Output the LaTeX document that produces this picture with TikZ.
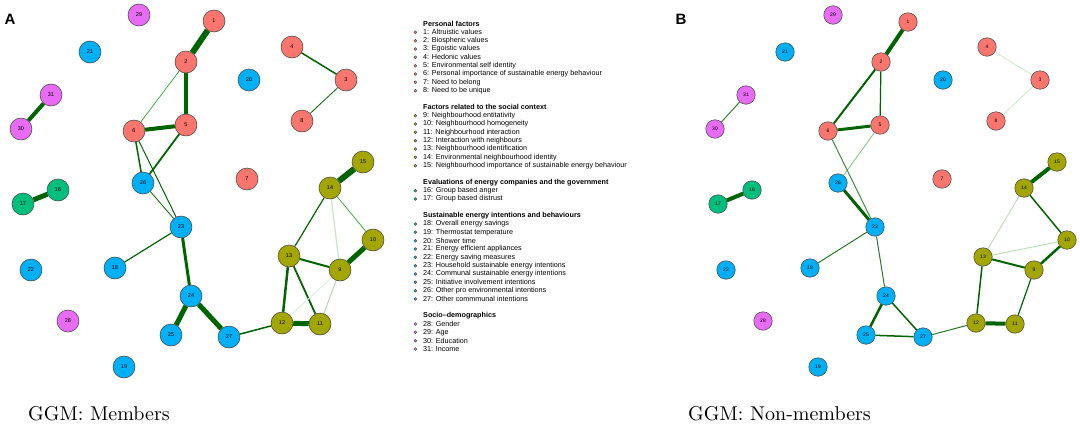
\documentclass[tikz,border=0pt]{standalone}
\usepackage{fontspec}
\newfontfamily\arial{Liberation Sans}
\newfontfamily\capfont{lmroman10-regular.otf}
\usetikzlibrary{backgrounds}

\definecolor{personal}{HTML}{F8766D}
\definecolor{social}{HTML}{A3A500}
\definecolor{evaluation}{HTML}{00BF7D}
\definecolor{intention}{HTML}{00B0F6}
\definecolor{demographic}{HTML}{E76BF3}
\definecolor{strong}{RGB}{0,100,0}
\definecolor{weak}{HTML}{009900}

\tikzset{
    pf/.style={fill=personal},
    sc/.style={fill=social},
    ev/.style={fill=evaluation},
    si/.style={fill=intention},
    sd/.style={fill=demographic},
    varA/.style={circle,draw=black!75,line width=0.5pt,minimum size=22pt,
        inner sep=0pt,font=\arial\fontsize{5.5}{6}\selectfont},
    varB/.style={varA,minimum size=18.5pt,font=\arial\fontsize{5}{6}\selectfont},
    tie/.style={draw=strong,line width=#1},
    faint/.style={draw=weak!#1,line width=0.9pt},
    keydot/.style={circle,draw=black!75,line width=0.3pt,minimum size=3pt,
        inner sep=0pt,xshift=-6pt},
    keytext/.style={anchor=west,inner sep=0pt,
        font=\arial\fontsize{7.2}{8}\selectfont},
    keyhead/.style={keytext,font=\arial\bfseries\fontsize{7.2}{8}\selectfont},
    caption/.style={anchor=west,inner sep=0pt,font=\capfont\fontsize{20}{24}\selectfont}
}

\begin{document}
\begin{tikzpicture}[x=1pt,y=-1pt]
        \useasboundingbox (0,0) rectangle (1080,426);

        % Panel letters
        \node [font=\arial\bfseries\fontsize{15}{16}\selectfont] (letA) at (10,19) {A};
        \node [font=\arial\bfseries\fontsize{15}{16}\selectfont] (letB) at (681,19) {B};

        % Members: variables
        \node [varA,pf] (a1) at (214,21) {1};
        \node [varA,pf] (a2) at (186,62) {2};
        \node [varA,pf] (a3) at (346,80) {3};
        \node [varA,pf] (a4) at (292,47) {4};
        \node [varA,pf] (a5) at (186,125) {5};
        \node [varA,pf] (a6) at (134,131) {6};
        \node [varA,pf] (a7) at (247,179) {7};
        \node [varA,pf] (a8) at (302,121) {8};
        \node [varA,sc] (a9) at (340,270) {9};
        \node [varA,sc] (a10) at (373,240) {10};
        \node [varA,sc] (a11) at (320,324) {11};
        \node [varA,sc] (a12) at (282,323) {12};
        \node [varA,sc] (a13) at (289,256) {13};
        \node [varA,sc] (a14) at (330,188) {14};
        \node [varA,sc] (a15) at (363,162) {15};
        \node [varA,ev] (a16) at (58,190) {16};
        \node [varA,ev] (a17) at (23,204) {17};
        \node [varA,si] (a18) at (115,268) {18};
        \node [varA,si] (a19) at (124,367) {19};
        \node [varA,si] (a20) at (249,80) {20};
        \node [varA,si] (a21) at (90,52) {21};
        \node [varA,si] (a22) at (31,270) {22};
        \node [varA,si] (a23) at (181,227) {23};
        \node [varA,si] (a24) at (191,296) {24};
        \node [varA,si] (a25) at (171,335) {25};
        \node [varA,si] (a26) at (143,183) {26};
        \node [varA,si] (a27) at (229,337) {27};
        \node [varA,sd] (a28) at (68,321) {28};
        \node [varA,sd] (a29) at (139,15) {29};
        \node [varA,sd] (a30) at (21,129) {30};
        \node [varA,sd] (a31) at (51,95) {31};

        % Members: edges
        \begin{scope}[on background layer]
            \draw [tie=6pt] (a1) -- (a2);
            \draw [tie=4pt] (a2) -- (a5);
            \draw [faint=85,line width=0.7pt] (a2) -- (a6);
            \draw [tie=4pt] (a6) -- (a5);
            \draw [tie=1.8pt] (a5) -- (a26);
            \draw [tie=1.5pt] (a6) -- (a26);
            \draw [tie=1pt] (a6) -- (a23);
            \draw [tie=0.8pt] (a26) -- (a23);
            \draw [tie=1.5pt] (a4) -- (a3);
            \draw [tie=0.8pt] (a3) -- (a8);
            \draw [tie=4pt] (a31) -- (a30);
            \draw [tie=5pt] (a16) -- (a17);
            \draw [tie=1.2pt] (a23) -- (a18);
            \draw [tie=3pt] (a23) -- (a24);
            \draw [tie=5pt] (a24) -- (a25);
            \draw [tie=5pt] (a24) -- (a27);
            \draw [tie=1.5pt] (a27) -- (a12);
            \draw [tie=5pt] (a12) -- (a11);
            \draw [tie=2.5pt] (a12) -- (a13);
            \draw [tie=1.8pt] (a13) -- (a11);
            \draw [tie=2pt] (a13) -- (a9);
            \draw [tie=1.2pt] (a13) -- (a14);
            \draw [tie=6pt] (a14) -- (a15);
            \draw [faint=85,line width=0.7pt] (a14) -- (a10);
            \draw [faint=22,line width=1.3pt] (a14) -- (a9);
            \draw [tie=5pt] (a9) -- (a10);
            \draw [faint=15] (a9) -- (a12);
            \draw [faint=35] (a9) -- (a11);
        \end{scope}

        % Legend
        \node [keyhead] (h1) at (423,24.0) {Personal factors};
        \node [keytext,label={[keydot,pf]left:{}}] (k1) at (423,32.3) {1: Altruistic values};
        \node [keytext,label={[keydot,pf]left:{}}] (k2) at (423,40.7) {2: Biospheric values};
        \node [keytext,label={[keydot,pf]left:{}}] (k3) at (423,49.0) {3: Egoistic values};
        \node [keytext,label={[keydot,pf]left:{}}] (k4) at (423,57.3) {4: Hedonic values};
        \node [keytext,label={[keydot,pf]left:{}}] (k5) at (423,65.7) {5: Environmental self identity};
        \node [keytext,label={[keydot,pf]left:{}}] (k6) at (423,74.0) {6: Personal importance of sustainable energy behaviour};
        \node [keytext,label={[keydot,pf]left:{}}] (k7) at (423,82.3) {7: Need to belong};
        \node [keytext,label={[keydot,pf]left:{}}] (k8) at (423,90.7) {8: Need to be unique};
        \node [keyhead] (h2) at (423,107.3) {Factors related to the social context};
        \node [keytext,label={[keydot,sc]left:{}}] (k9) at (423,115.7) {9: Neighbourhood entitativity};
        \node [keytext,label={[keydot,sc]left:{}}] (k10) at (423,124.0) {10: Neighbourhood homogeneity};
        \node [keytext,label={[keydot,sc]left:{}}] (k11) at (423,132.3) {11: Neighbourhood interaction};
        \node [keytext,label={[keydot,sc]left:{}}] (k12) at (423,140.7) {12: Interaction with neighbours};
        \node [keytext,label={[keydot,sc]left:{}}] (k13) at (423,149.0) {13: Neighbourhood identification};
        \node [keytext,label={[keydot,sc]left:{}}] (k14) at (423,157.3) {14: Environmental neighbourhood identity};
        \node [keytext,label={[keydot,sc]left:{}}] (k15) at (423,165.7) {15: Neighbourhood importance of sustainable energy behaviour};
        \node [keyhead] (h3) at (423,182.3) {Evaluations of energy companies and the government};
        \node [keytext,label={[keydot,ev]left:{}}] (k16) at (423,190.7) {16: Group based anger};
        \node [keytext,label={[keydot,ev]left:{}}] (k17) at (423,199.0) {17: Group based distrust};
        \node [keyhead] (h4) at (423,215.7) {Sustainable energy intentions and behaviours};
        \node [keytext,label={[keydot,si]left:{}}] (k18) at (423,224.0) {18: Overall energy savings};
        \node [keytext,label={[keydot,si]left:{}}] (k19) at (423,232.3) {19: Thermostat temperature};
        \node [keytext,label={[keydot,si]left:{}}] (k20) at (423,240.7) {20: Shower time};
        \node [keytext,label={[keydot,si]left:{}}] (k21) at (423,249.0) {21: Energy efficient appliances};
        \node [keytext,label={[keydot,si]left:{}}] (k22) at (423,257.3) {22: Energy saving measures};
        \node [keytext,label={[keydot,si]left:{}}] (k23) at (423,265.7) {23: Household sustainable energy intentions};
        \node [keytext,label={[keydot,si]left:{}}] (k24) at (423,274.0) {24: Communal sustainable energy intentions};
        \node [keytext,label={[keydot,si]left:{}}] (k25) at (423,282.3) {25: Initiative involvement intentions};
        \node [keytext,label={[keydot,si]left:{}}] (k26) at (423,290.7) {26: Other pro environmental intentions};
        \node [keytext,label={[keydot,si]left:{}}] (k27) at (423,299.0) {27: Other commmunal intentions};
        \node [keyhead] (h5) at (423,315.7) {Socio{\textendash}demographics};
        \node [keytext,label={[keydot,sd]left:{}}] (k28) at (423,324.0) {28: Gender};
        \node [keytext,label={[keydot,sd]left:{}}] (k29) at (423,332.3) {29: Age};
        \node [keytext,label={[keydot,sd]left:{}}] (k30) at (423,340.7) {30: Education};
        \node [keytext,label={[keydot,sd]left:{}}] (k31) at (423,349.0) {31: Income};

        % Non-members: variables
        \node [varB,pf] (b1) at (908,22) {1};
        \node [varB,pf] (b2) at (881,62) {2};
        \node [varB,pf] (b3) at (1040,80) {3};
        \node [varB,pf] (b4) at (987,47) {4};
        \node [varB,pf] (b5) at (880,125) {5};
        \node [varB,pf] (b6) at (828,131) {6};
        \node [varB,pf] (b7) at (942,179) {7};
        \node [varB,pf] (b8) at (996,121) {8};
        \node [varB,sc] (b9) at (1034,270) {9};
        \node [varB,sc] (b10) at (1067,240) {10};
        \node [varB,sc] (b11) at (1015,324) {11};
        \node [varB,sc] (b12) at (976,323) {12};
        \node [varB,sc] (b13) at (983,257) {13};
        \node [varB,sc] (b14) at (1024,188) {14};
        \node [varB,sc] (b15) at (1057,162) {15};
        \node [varB,ev] (b16) at (752,190) {16};
        \node [varB,ev] (b17) at (718,204) {17};
        \node [varB,si] (b18) at (810,268) {18};
        \node [varB,si] (b19) at (818,367) {19};
        \node [varB,si] (b20) at (943,80) {20};
        \node [varB,si] (b21) at (785,52) {21};
        \node [varB,si] (b22) at (726,270) {22};
        \node [varB,si] (b23) at (875,227) {23};
        \node [varB,si] (b24) at (886,296) {24};
        \node [varB,si] (b25) at (866,335) {25};
        \node [varB,si] (b26) at (838,183) {26};
        \node [varB,si] (b27) at (923,337) {27};
        \node [varB,sd] (b28) at (763,321) {28};
        \node [varB,sd] (b29) at (833,15) {29};
        \node [varB,sd] (b30) at (715,129) {30};
        \node [varB,sd] (b31) at (746,95) {31};

        % Non-members: edges
        \begin{scope}[on background layer]
            \draw [tie=4pt] (b1) -- (b2);
            \draw [tie=2pt] (b2) -- (b6);
            \draw [tie=1.2pt] (b2) -- (b5);
            \draw [tie=3pt] (b6) -- (b5);
            \draw [faint=50] (b5) -- (b26);
            \draw [draw=strong!75,line width=1pt] (b6) -- (b23);
            \draw [tie=3pt] (b26) -- (b23);
            \draw [faint=20] (b4) -- (b3);
            \draw [faint=20] (b3) -- (b8);
            \draw [draw=strong!80,line width=1pt] (b31) -- (b30);
            \draw [tie=4pt] (b16) -- (b17);
            \draw [draw=strong!85,line width=1pt] (b23) -- (b18);
            \draw [draw=strong!85,line width=1pt] (b23) -- (b24);
            \draw [tie=2.5pt] (b24) -- (b25);
            \draw [tie=1.5pt] (b24) -- (b27);
            \draw [tie=1.5pt] (b25) -- (b27);
            \draw [draw=strong!85,line width=1pt] (b27) -- (b12);
            \draw [tie=4pt] (b12) -- (b11);
            \draw [tie=1.5pt] (b12) -- (b13);
            \draw [tie=2pt] (b13) -- (b9);
            \draw [faint=30] (b13) -- (b14);
            \draw [faint=30] (b13) -- (b10);
            \draw [tie=1.5pt] (b14) -- (b10);
            \draw [tie=2.5pt] (b9) -- (b10);
            \draw [tie=1.2pt] (b9) -- (b11);
            \draw [tie=4pt] (b14) -- (b15);
        \end{scope}

        % Captions
        \node [caption] (capA) at (28,414) {GGM: Members};
        \node [caption] (capB) at (688,414) {GGM: Non-members};
\end{tikzpicture}
\end{document}
